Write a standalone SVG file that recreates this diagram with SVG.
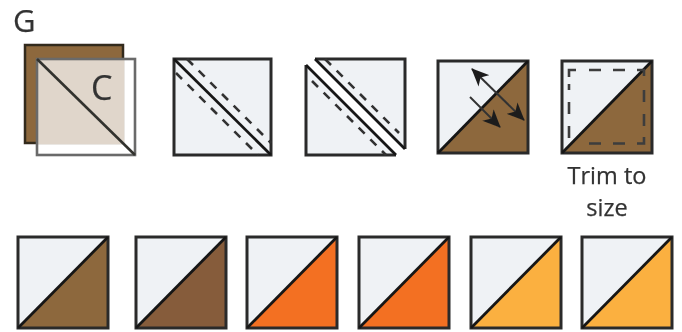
<svg xmlns="http://www.w3.org/2000/svg" width="682" height="332" viewBox="0 0 682 332">
<style>
svg>g{filter:url(#soft)}
.ln{fill:none;stroke:#161616;stroke-width:2.8}
.bx{fill:none;stroke:#2b2b2b;stroke-width:3}
.da{fill:none;stroke:#333;stroke-width:2.6;stroke-dasharray:8.5 8}
.ds{fill:none;stroke:#3d3d3d;stroke-width:2.6}
.th{fill:none;stroke:#333;stroke-width:2}
.lt{fill:#eff2f5}
text{font-family:"Open Sans","Noto Sans",sans-serif;fill:#333;stroke:#333;stroke-width:.25}
</style>
<defs>
<filter id="soft" x="-5%" y="-5%" width="110%" height="110%"><feGaussianBlur stdDeviation="0.55"/></filter>
<marker id="ah" viewBox="0 0 18 16" refX="17" refY="8" markerWidth="18" markerHeight="16" markerUnits="userSpaceOnUse" orient="auto-start-reverse"><path d="M0 0L18 8L0 16L5 8z" fill="#1f1f1f"/></marker>
</defs>
<g id="label-g"><text x="13" y="32" font-size="31">G</text></g>
<g id="block-c">
<rect x="25" y="45" width="98" height="98" fill="#8d683d" stroke="#33291c" stroke-width="2.5"/>
<path d="M37 59H124.500V144.500H37z" fill="#e0d6cb"/>
<path d="M124.500 59H135V155H37V144.500H124.500z" fill="#fff"/>
<rect x="37" y="59" width="98" height="96" fill="none" stroke="#6a6a6a" stroke-width="2.6"/>
<path d="M37 59L135 155" fill="none" stroke="#33332e" stroke-width="2.6"/>
<text x="91" y="100" font-size="34">C</text>
</g>
<g id="block-seam">
<rect class="lt" x="174" y="59" width="97" height="96"/>
<rect class="bx" x="174" y="59" width="97" height="96"/>
<path class="ln" d="M174 59L271 155"/>
<path class="da" d="M187 59L271 143"/>
<path class="da" d="M176 73L258 155"/>
</g>
<g id="block-cut">
<path class="lt" d="M306 65L396 155H306z"/>
<path class="lt" d="M315 59H405V149z"/>
<path class="bx" d="M396 155H306V65M315 59H405V149"/>
<path class="ln" d="M306 65L396 155M315 59L405 149"/>
<path class="da" d="M325 59L399 133"/>
<path class="da" d="M312 81L386 155"/>
</g>
<g id="block-press">
<rect class="lt" x="438" y="61" width="90" height="92"/>
<path d="M438 153L528 61V153z" fill="#8d683d"/>
<rect class="bx" x="438" y="61" width="90" height="92"/>
<path class="ln" d="M438 153L528 61"/>
</g>
<g id="block-trim">
<rect class="lt" x="562" y="61" width="90" height="92"/>
<path d="M562 153L652 61V153z" fill="#8d683d"/>
<rect class="bx" x="562" y="61" width="90" height="92"/>
<path class="ln" d="M562 153L652 61"/>
<path class="ds" d="M569 77V70H576M589 70H601M613 70H625M637 70H644V76M644 90V102M644 114V126M644 137V143.500H637M625 143.500H613M601 143.500H589M569 138V126M569 114V102M569 90V84"/>
<text x="607" y="184" font-size="23.500" text-anchor="middle">Trim to</text>
<text x="607" y="216" font-size="23.500" text-anchor="middle">size</text>
</g>
<g id="hst-1"><rect class="lt" x="18" y="237" width="90" height="91"/><path d="M18 328L108 237V328z" fill="#8d683d"/><rect class="bx" x="18" y="237" width="90" height="91"/><path class="ln" d="M18 328L108 237"/></g>
<g id="hst-2"><rect class="lt" x="136" y="237" width="90" height="91"/><path d="M136 328L226 237V328z" fill="#865c3b"/><rect class="bx" x="136" y="237" width="90" height="91"/><path class="ln" d="M136 328L226 237"/></g>
<g id="hst-3"><rect class="lt" x="247" y="237" width="90" height="91"/><path d="M247 328L337 237V328z" fill="#f36f21"/><rect class="bx" x="247" y="237" width="90" height="91"/><path class="ln" d="M247 328L337 237"/></g>
<g id="hst-4"><rect class="lt" x="359" y="237" width="90" height="91"/><path d="M359 328L449 237V328z" fill="#f36f21"/><rect class="bx" x="359" y="237" width="90" height="91"/><path class="ln" d="M359 328L449 237"/></g>
<g id="hst-5"><rect class="lt" x="471" y="237" width="90" height="91"/><path d="M471 328L561 237V328z" fill="#fbb040"/><rect class="bx" x="471" y="237" width="90" height="91"/><path class="ln" d="M471 328L561 237"/></g>
<g id="hst-6"><rect class="lt" x="582" y="237" width="90" height="91"/><path d="M582 328L672 237V328z" fill="#fbb040"/><rect class="bx" x="582" y="237" width="90" height="91"/><path class="ln" d="M582 328L672 237"/></g>
<g id="connectors">
<path class="th" d="M472 69L524 120" marker-start="url(#ah)" marker-end="url(#ah)"/>
<path class="th" d="M470 97L500 127" marker-end="url(#ah)"/>
</g>
</svg>
